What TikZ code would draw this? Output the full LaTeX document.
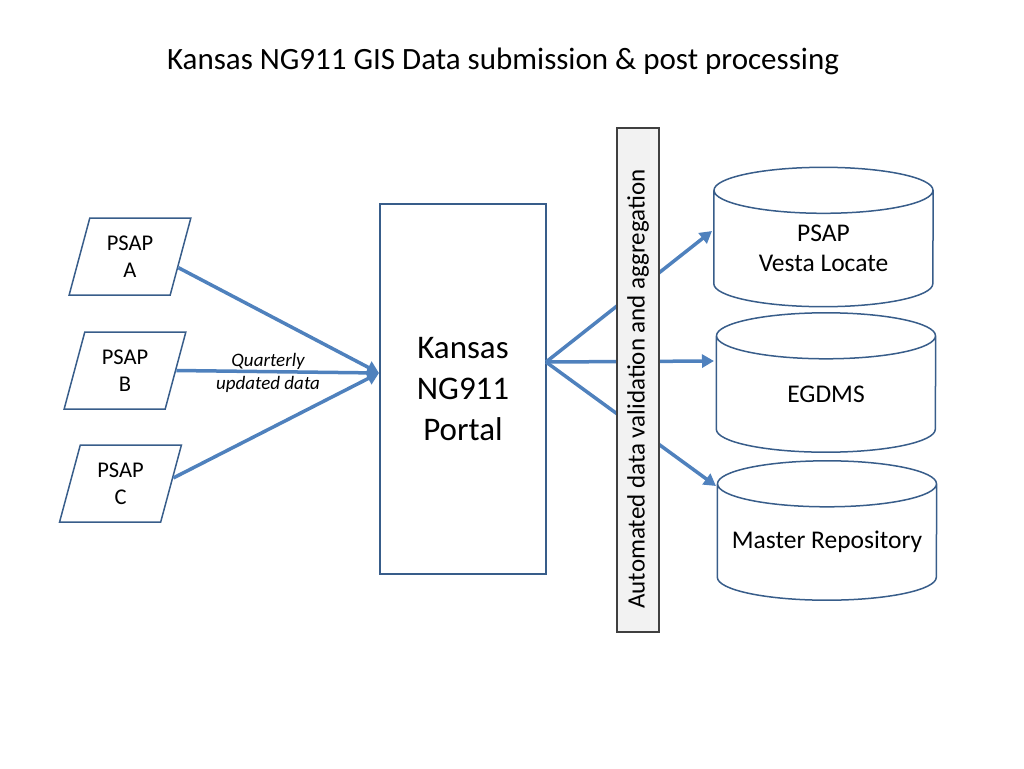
\documentclass[tikz,border=0pt]{standalone}
\usepackage{fontspec}
\setmainfont{Carlito}
\usetikzlibrary{shapes.geometric,arrows.meta,calc}
\definecolor{linkblue}{RGB}{79,129,189}
\definecolor{edgeblue}{RGB}{56,93,138}
\definecolor{barfill}{RGB}{242,242,242}
\definecolor{bardraw}{RGB}{64,64,64}

\begin{document}
\begin{tikzpicture}[x=1pt,y=1pt,yscale=-1,
  psap/.style={trapezium, trapezium left angle=74, trapezium right angle=106, trapezium stretches=true, draw=edgeblue, line width=1.5pt, minimum width=122pt, minimum height=77pt, inner sep=0pt, align=center, font=\fontsize{22.5}{27}\selectfont},
  db/.style={minimum width=219pt, minimum height=116pt, inner sep=0pt, align=center, font=\fontsize{25.5}{30}\selectfont},
  dbline/.style={draw=edgeblue, line width=1.5pt},
  feed/.style={draw=linkblue, line width=3.5pt, -{Triangle[length=12pt,width=13pt]}}]
\useasboundingbox (0,0) rectangle (1024,768);
% Title
\node (title) at (503,61) {\fontsize{31}{36}\selectfont Kansas NG911 GIS Data submission \& post processing};
%Shape: Parallelograms
\node[psap] (psapA) at (130,256.5) {PSAP\\A};
\node[psap] (psapB) at (125,370.5) {PSAP\\B};
\node[psap] (psapC) at (120.5,483.5) {PSAP\\C};
%Shape: Rectangle
\node[draw=edgeblue, line width=1.5pt, minimum width=166pt, minimum height=370pt, align=center, font=\fontsize{33}{41}\selectfont] (portal) at (463,389) {Kansas\\NG911\\Portal};
\coordinate (collect) at (379,373);
\coordinate (hub) at (546,362);
%Shape: Cylinders (body node from top rim centre to bottom)
\node[db] (dbVesta) at (823.5,248.5) {PSAP\\Vesta Locate};
\node[db] (dbEgdms) at (826,394) {EGDMS};
\node[db] (dbMaster) at (827,542) {Master Repository};
\foreach \n in {dbVesta,dbEgdms,dbMaster}
  \draw[dbline] (\n.north) ellipse[x radius=109.5, y radius=23]
    (\n.north west) -- ($(\n.south west)+(0,-23)$) arc[start angle=180, end angle=0, x radius=109.5, y radius=23] -- (\n.north east);
\coordinate (inVesta) at (712,231);
\coordinate (inEgdms) at (714,361);
\coordinate (inMaster) at (716,486);
%Straight Lines
\draw[feed] (psapA.-13) -- (collect);
\draw[feed] (psapB.east) -- (collect);
\draw[feed] (psapC.6) -- (collect);
\draw[feed] (hub) -- (inVesta);
\draw[feed] (hub) -- (inEgdms);
\draw[feed] (hub) -- (inMaster);
% Text Node
\node[align=center, font=\fontsize{19}{23}\selectfont\itshape] (quarterly) at (268,373) {Quarterly\\updated data};
%Shape: Rectangle (rotated)
\node[rotate=90, draw=bardraw, fill=barfill, line width=1.2pt, minimum width=504pt, minimum height=42pt, inner sep=0pt, font=\fontsize{25}{30}\selectfont] (check) at (638,380) {Automated data validation and aggregation\hspace*{18pt}};
\end{tikzpicture}
\end{document}
